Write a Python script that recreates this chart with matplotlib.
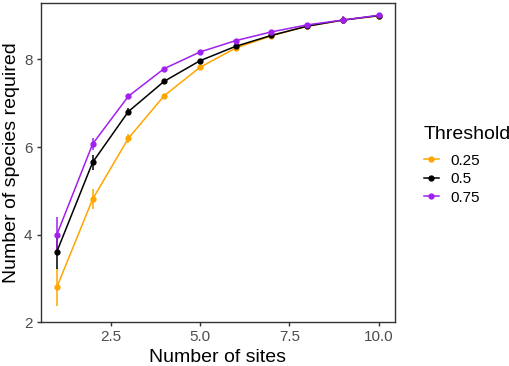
import matplotlib
matplotlib.use("Agg")
import matplotlib.pyplot as plt
from matplotlib.lines import Line2D

plt.rcParams["font.family"] = ["Liberation Sans", "DejaVu Sans"]

# Data
sites = [1, 2, 3, 4, 5, 6, 7, 8, 9, 10]
thresholds = ["0.25", "0.5", "0.75"]
mean_025 = [2.80, 4.81, 6.20, 7.17, 7.82, 8.26, 8.54, 8.76, 8.90, 9.00]
err_025 = [0.43, 0.22, 0.10, 0.05, 0.03, 0.03, 0.02, 0.02, 0.02, 0.0]
mean_050 = [3.61, 5.65, 6.81, 7.50, 7.97, 8.30, 8.55, 8.76, 8.90, 9.00]
err_050 = [0.40, 0.17, 0.08, 0.04, 0.03, 0.03, 0.02, 0.02, 0.02, 0.0]
mean_075 = [4.00, 6.07, 7.16, 7.79, 8.17, 8.43, 8.63, 8.79, 8.90, 9.01]
err_075 = [0.41, 0.13, 0.06, 0.04, 0.03, 0.03, 0.02, 0.02, 0.09, 0.0]

colors = ["#FFA500", "#000000", "#A020F0"]
series = [(mean_025, err_025), (mean_050, err_050), (mean_075, err_075)]

fig = plt.figure(figsize=(5.1, 3.66), dpi=100)
ax = fig.add_axes([0.08, 0.12, 0.694, 0.873])

handles = []
for label, (m, e), c in zip(thresholds, series, colors):
    ax.errorbar(sites, m, yerr=e, color=c, linewidth=1.1, elinewidth=1.1,
                marker="o", markersize=3.5, capsize=0)
    handles.append(Line2D([], [], color=c, linewidth=1.1, marker="o",
                          markersize=3.5, label=label))

ax.set_xlim(0.55, 10.45)
ax.set_ylim(2.0, 9.3)
ax.set_xticks([2.5, 5.0, 7.5, 10.0])
ax.set_xticklabels(["2.5", "5.0", "7.5", "10.0"])
ax.set_yticks([2, 4, 6, 8])

for s in ax.spines.values():
    s.set_color("#333333")
    s.set_linewidth(1.0)
ax.tick_params(axis="both", colors="#333333", length=3, width=1.0,
               labelsize=11, labelcolor="#4D4D4D", pad=3)

ax.set_xlabel("Number of sites", fontsize=14, labelpad=3)
ax.set_ylabel("Number of species required", fontsize=14, labelpad=3)

leg = ax.legend(handles=handles, title="Threshold", loc="center left",
                bbox_to_anchor=(1.065, 0.49), frameon=False, fontsize=11,
                title_fontsize=14, handlelength=1.0, handletextpad=0.75,
                labelspacing=0.3, borderaxespad=0)
leg._legend_box.align = "left"
leg._legend_box.sep = 7.5

fig.savefig("out.png", dpi=100)
